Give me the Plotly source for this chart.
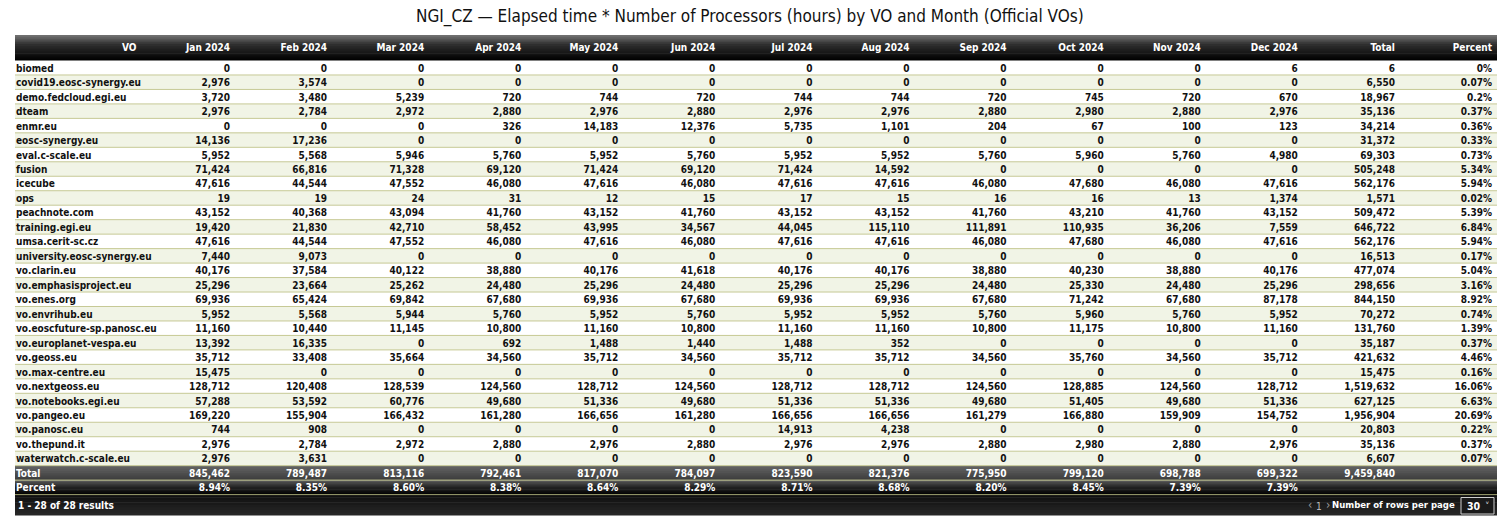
import plotly.graph_objects as go

# ---------------- data ----------------
vos = [
    "biomed", "covid19.eosc-synergy.eu", "demo.fedcloud.egi.eu", "dteam", "enmr.eu",
    "eosc-synergy.eu", "eval.c-scale.eu", "fusion", "icecube", "ops", "peachnote.com",
    "training.egi.eu", "umsa.cerit-sc.cz", "university.eosc-synergy.eu", "vo.clarin.eu",
    "vo.emphasisproject.eu", "vo.enes.org", "vo.envrihub.eu", "vo.eoscfuture-sp.panosc.eu",
    "vo.europlanet-vespa.eu", "vo.geoss.eu", "vo.max-centre.eu", "vo.nextgeoss.eu",
    "vo.notebooks.egi.eu", "vo.pangeo.eu", "vo.panosc.eu", "vo.thepund.it",
    "waterwatch.c-scale.eu",
]
months = ["Jan 2024", "Feb 2024", "Mar 2024", "Apr 2024", "May 2024", "Jun 2024",
          "Jul 2024", "Aug 2024", "Sep 2024", "Oct 2024", "Nov 2024", "Dec 2024"]

jan = [0, 2976, 3720, 2976, 0, 14136, 5952, 71424, 47616, 19, 43152, 19420, 47616, 7440,
       40176, 25296, 69936, 5952, 11160, 13392, 35712, 15475, 128712, 57288, 169220, 744, 2976, 2976]
feb = [0, 3574, 3480, 2784, 0, 17236, 5568, 66816, 44544, 19, 40368, 21830, 44544, 9073,
       37584, 23664, 65424, 5568, 10440, 16335, 33408, 0, 120408, 53592, 155904, 908, 2784, 3631]
mar = [0, 0, 5239, 2972, 0, 0, 5946, 71328, 47552, 24, 43094, 42710, 47552, 0,
       40122, 25262, 69842, 5944, 11145, 0, 35664, 0, 128539, 60776, 166432, 0, 2972, 0]
apr = [0, 0, 720, 2880, 326, 0, 5760, 69120, 46080, 31, 41760, 58452, 46080, 0,
       38880, 24480, 67680, 5760, 10800, 692, 34560, 0, 124560, 49680, 161280, 0, 2880, 0]
may = [0, 0, 744, 2976, 14183, 0, 5952, 71424, 47616, 12, 43152, 43995, 47616, 0,
       40176, 25296, 69936, 5952, 11160, 1488, 35712, 0, 128712, 51336, 166656, 0, 2976, 0]
jun = [0, 0, 720, 2880, 12376, 0, 5760, 69120, 46080, 15, 41760, 34567, 46080, 0,
       41618, 24480, 67680, 5760, 10800, 1440, 34560, 0, 124560, 49680, 161280, 0, 2880, 0]
jul = [0, 0, 744, 2976, 5735, 0, 5952, 71424, 47616, 17, 43152, 44045, 47616, 0,
       40176, 25296, 69936, 5952, 11160, 1488, 35712, 0, 128712, 51336, 166656, 14913, 2976, 0]
aug = [0, 0, 744, 2976, 1101, 0, 5952, 14592, 47616, 15, 43152, 115110, 47616, 0,
       40176, 25296, 69936, 5952, 11160, 352, 35712, 0, 128712, 51336, 166656, 4238, 2976, 0]
sep = [0, 0, 720, 2880, 204, 0, 5760, 0, 46080, 16, 41760, 111891, 46080, 0,
       38880, 24480, 67680, 5760, 10800, 0, 34560, 0, 124560, 49680, 161279, 0, 2880, 0]
oct_ = [0, 0, 745, 2980, 67, 0, 5960, 0, 47680, 16, 43210, 110935, 47680, 0,
        40230, 25330, 71242, 5960, 11175, 0, 35760, 0, 128885, 51405, 166880, 0, 2980, 0]
nov = [0, 0, 720, 2880, 100, 0, 5760, 0, 46080, 13, 41760, 36206, 46080, 0,
       38880, 24480, 67680, 5760, 10800, 0, 34560, 0, 124560, 49680, 159909, 0, 2880, 0]
dec = [6, 0, 670, 2976, 123, 0, 4980, 0, 47616, 1374, 43152, 7559, 47616, 0,
       40176, 25296, 87178, 5952, 11160, 0, 35712, 0, 128712, 51336, 154752, 0, 2976, 0]

row_totals = [6, 6550, 18967, 35136, 34214, 31372, 69303, 505248, 562176, 1571, 509472,
              646722, 562176, 16513, 477074, 298656, 844150, 70272, 131760, 35187, 421632,
              15475, 1519632, 627125, 1956904, 20803, 35136, 6607]
row_percent = ["0%", "0.07%", "0.2%", "0.37%", "0.36%", "0.33%", "0.73%", "5.34%", "5.94%",
               "0.02%", "5.39%", "6.84%", "5.94%", "0.17%", "5.04%", "3.16%", "8.92%", "0.74%",
               "1.39%", "0.37%", "4.46%", "0.16%", "16.06%", "6.63%", "20.69%", "0.22%",
               "0.37%", "0.07%"]
month_totals = [845462, 789487, 813116, 792461, 817070, 784097, 823590, 821376, 775950,
                799120, 698788, 699322]
month_percent = ["8.94%", "8.35%", "8.60%", "8.38%", "8.64%", "8.29%", "8.71%", "8.68%",
                 "8.20%", "8.45%", "7.39%", "7.39%"]
grand_total = 9459840

title_text = "NGI_CZ \u2014 Elapsed time * Number of Processors (hours) by VO and Month (Official VOs)"

# ---------------- geometry / style ----------------
W, H = 1500, 520
FONT = "DejaVu Sans Condensed, Liberation Sans Narrow, Arial Narrow, sans-serif"
TOP = 35.0
HEAD_H = 25.5
ROW_H = 14.47
X0, X1 = 15, 1497
TABLE_X0 = 8
TEXT_SHIFT = 4.3            # plotly puts cell text near the top of each cell
TABLE_TOP = 35.75
n = len(vos)

def fx(p):
    return p / W

def fy(p):
    return 1 - p / H

month_series = [jan, feb, mar, apr, may, jun, jul, aug, sep, oct_, nov, dec]

def fmt(v):
    return f"{v:,}"

columns = [vos + ["Total", "Percent"]]
for s, t, p in zip(month_series, month_totals, month_percent):
    columns.append([fmt(v) for v in s] + [fmt(t), p])
columns.append([fmt(v) for v in row_totals] + [fmt(grand_total), ""])
columns.append(row_percent + ["", ""])

header = ["VO" + "\u00a0" * 5] + months + ["Total", "Percent"]
ncols = len(header)

font_colors = [["#111111"] * n + ["#ffffff", "#ffffff"] for _ in range(ncols)]

vo_w = 152
jan_w = 238 - TABLE_X0 - vo_w
other_w = (W - 238) / (ncols - 2)
col_widths = [vo_w, jan_w] + [other_w] * (ncols - 2)

rows_top = TOP + HEAD_H
head_h_table = rows_top - TEXT_SHIFT - TABLE_TOP

table = go.Table(
    domain=dict(x=[fx(TABLE_X0), 1], y=[fy(508), fy(TABLE_TOP)]),
    columnwidth=col_widths,
    columnorder=list(range(ncols)),
    header=dict(
        values=header,
        align="right",
        height=head_h_table,
        fill=dict(color="rgba(0,0,0,0)"),
        line=dict(width=0, color="rgba(0,0,0,0)"),
        font=dict(family=FONT, size=10, color="white", weight="bold"),
    ),
    cells=dict(
        values=columns,
        align=["left"] + ["right"] * (ncols - 1),
        height=ROW_H,
        fill=dict(color="rgba(0,0,0,0)"),
        line=dict(width=0, color="rgba(0,0,0,0)"),
        font=dict(family=FONT, size=10, color=font_colors, weight="bold"),
    ),
)

fig = go.Figure(table)

shapes = []

def rect(x0, x1, y0, y1, color, line=None):
    shapes.append(dict(type="rect", xref="paper", yref="paper",
                       x0=fx(x0), x1=fx(x1), y0=fy(y1), y1=fy(y0),
                       fillcolor=color, line=line or dict(width=0), layer="below"))

def hline(y, color, width=1):
    shapes.append(dict(type="line", xref="paper", yref="paper",
                       x0=fx(X0), x1=fx(X1), y0=fy(y), y1=fy(y),
                       line=dict(color=color, width=width), layer="below"))

def lerp(c0, c1, t):
    return "#%02x%02x%02x" % tuple(int(round(a + (b - a) * t)) for a, b in zip(c0, c1))

def gradient(y0, y1, stops, steps=14):
    h = (y1 - y0) / steps
    for i in range(steps):
        t = i / (steps - 1)
        c = lerp(stops[-1][1], stops[-1][1], 0)
        for k in range(len(stops) - 1):
            if stops[k][0] <= t <= stops[k + 1][0]:
                tt = (t - stops[k][0]) / (stops[k + 1][0] - stops[k][0])
                c = lerp(stops[k][1], stops[k + 1][1], tt)
                break
        rect(X0, X1, y0 + i * h, y0 + (i + 1) * h + 0.6, c)

# header band
gradient(TOP, rows_top, [(0, (0x70, 0x70, 0x70)), (0.35, (0x30, 0x30, 0x30)), (1, (0x02, 0x02, 0x02))])

# zebra rows
for i in range(n):
    y0 = rows_top + i * ROW_H
    rect(X0, X1, y0, y0 + ROW_H, "#ffffff" if i % 2 == 0 else "#f1f4e6")

# total row / percent row / footer
tot_y0 = rows_top + n * ROW_H
gradient(tot_y0, tot_y0 + ROW_H, [(0, (0x62, 0x62, 0x62)), (1, (0x3e, 0x3e, 0x3e))], steps=8)
pct_y0 = tot_y0 + ROW_H
gradient(pct_y0, pct_y0 + ROW_H, [(0, (0x55, 0x55, 0x55)), (0.5, (0x22, 0x22, 0x22)), (1, (0x05, 0x05, 0x05))], steps=8)
foot_y0 = pct_y0 + ROW_H
gradient(foot_y0, 515, [(0, (0x10, 0x10, 0x10)), (1, (0x26, 0x26, 0x26))], steps=8)

# separator lines
for i in range(1, n + 2):
    hline(rows_top + i * ROW_H, "#c6c995", 1)
hline(foot_y0, "#9ea070", 1)

# rows-per-page dropdown box
rect(1461, 1494, 497.5, 514, "#1a1a1a", line=dict(color="#d0d0d0", width=1))

def ann(text, x, y, anchor, size, color, bold=False):
    f = dict(family=FONT, size=size, color=color)
    if bold:
        f["weight"] = "bold"
    return dict(text=text, x=fx(x), y=fy(y), xref="paper", yref="paper",
                showarrow=False, xanchor=anchor, yanchor="middle", font=f)

annotations = [
    ann(title_text, 750, 17, "center", 17, "#111111"),
    ann("1 - 28 of 28 results", 16, 505, "left", 10, "#ffffff", True),
    ann("\u2039", 1310, 505, "center", 12, "#9a9a9a"),
    ann("1", 1319, 506, "center", 10, "#bbbbbb"),
    ann("\u203a", 1328, 505, "center", 12, "#9a9a9a"),
    ann("Number of rows per page", 1457, 504, "right", 9.5, "#ffffff", True),
    ann("30", 1465, 506, "left", 10.5, "#ffffff", True),
    ann("\u02c5", 1487, 506, "center", 10, "#cccccc"),
]

fig.update_layout(
    width=W, height=H,
    margin=dict(l=0, r=0, t=0, b=0),
    paper_bgcolor="white",
    plot_bgcolor="white",
    shapes=shapes,
    annotations=annotations,
    showlegend=False,
)

fig.write_html("out.html", config={"displayModeBar": False},
               post_script="document.body.style.margin='0';")
